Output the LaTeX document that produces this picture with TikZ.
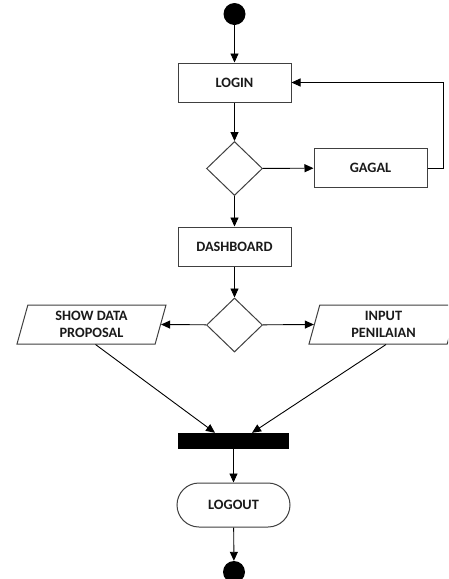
\documentclass[tikz,border=0pt]{standalone}
\usepackage{fontspec}
\setmainfont{Carlito}
\usetikzlibrary{shapes.geometric,arrows.meta,positioning}

\definecolor{edge}{HTML}{404040}
\definecolor{ink}{HTML}{1A1A1A}

\tikzset{
  base/.style={draw=edge, line width=1pt, fill=white, inner sep=0pt,
    font=\fontsize{14.3}{17}\selectfont\bfseries, text=ink, align=center},
  actbox/.style={base, rectangle, minimum width=113, minimum height=39},
  choice/.style={base, diamond, minimum width=56, minimum height=54},
  databox/.style={base, trapezium, trapezium left angle=67.7,
    trapezium right angle=112.3, trapezium stretches body,
    minimum width=149, minimum height=39},
  endbox/.style={base, rectangle, rounded corners=22, minimum width=113, minimum height=44},
  dot/.style={circle, fill=black, draw=none, minimum size=22, inner sep=0pt},
  bar/.style={rectangle, fill=black, draw=none, minimum width=111, minimum height=16, inner sep=0pt},
  flow/.style={draw=black, line width=0.9pt, -{Triangle[length=9pt,width=8pt]}},
}

\begin{document}
\begin{tikzpicture}[x=1pt, y=-1pt]
  \clip (0,0) rectangle (448,579);
  \fill[white] (0,0) rectangle (448,579);

  % nodes
  \node[dot]     (start)   at (234.5,14)    {};
  \node[actbox]  (login)   at (234.5,82.5)  {LOGIN};
  \node[choice]  (check)   at (234.5,168.5) {};
  \node[actbox]  (gagal)   at (370.5,168)   {GAGAL};
  \node[actbox]  (dash)    at (234.5,246.5) {DASHBOARD};
  \node[choice]  (menu)    at (234.5,325)   {};
  \node[databox] (show)    at (91.5,324.5)  {SHOW DATA\\PROPOSAL};
  \node[databox] (input)   at (383.5,324.5) {INPUT\\PENILAIAN};
  \node[bar]     (join)    at (233.5,441)   {};
  \node[endbox]  (logout)  at (233.5,505)   {LOGOUT};
  \node[dot]     (finish)  at (234,572)     {};

  % connectors
  \draw[flow] (start) -- (login);
  \draw[flow] (login) -- (check);
  \draw[flow] (check) -- (gagal);
  \draw[flow] (gagal.east) -- ++(16,0) |- (login.east);
  \draw[flow] (check) -- (dash);
  \draw[flow] (dash) -- (menu);
  \draw[flow] (menu) -- (show.east);
  \draw[flow] (menu) -- (input.west);
  \draw[flow] ([xshift=4]show.south) -- ([xshift=-18.5]join.north);
  \draw[flow] ([xshift=2.5]input.south) -- ([xshift=18.5]join.north);
  \draw[flow] (join) -- (logout);
  \draw[flow] (logout) -- (finish);
\end{tikzpicture}
\end{document}
